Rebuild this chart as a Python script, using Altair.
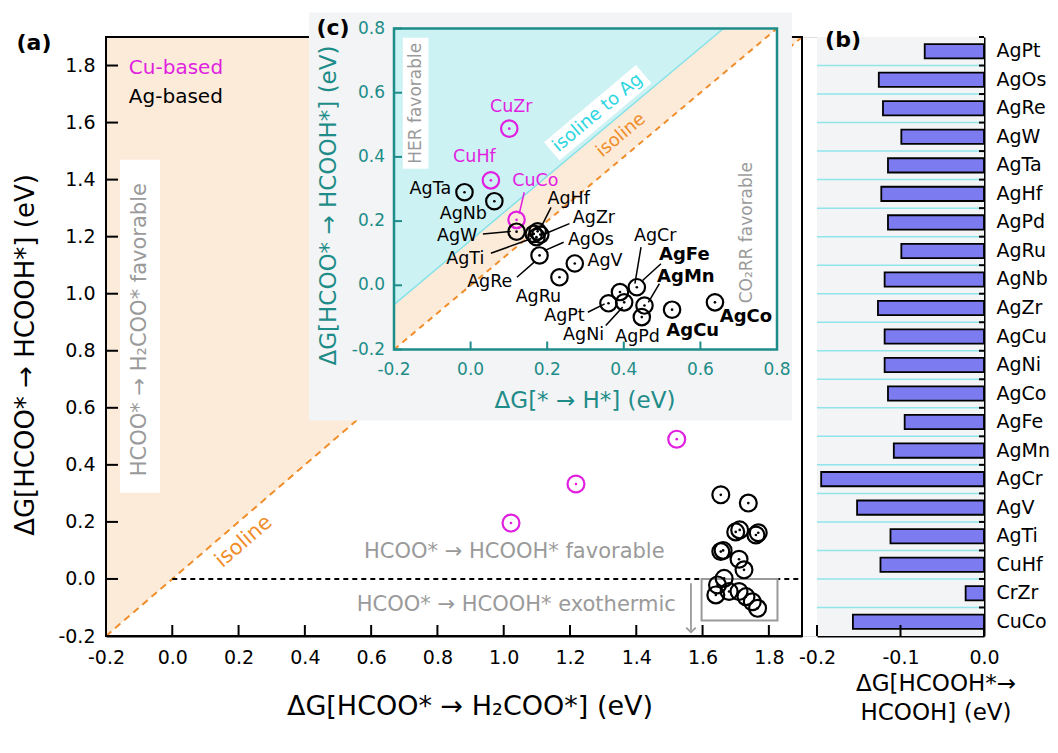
import altair as alt
import pandas as pd

FONT = "DejaVu Sans"

# ---------------- panel (b): ΔG[HCOOH* -> HCOOH] ----------------
b_names = ["AgPt", "AgOs", "AgRe", "AgW", "AgTa", "AgHf", "AgPd", "AgRu", "AgNb", "AgZr",
           "AgCu", "AgNi", "AgCo", "AgFe", "AgMn", "AgCr", "AgV", "AgTi", "CuHf", "CrZr", "CuCo"]
b_vals = [-0.071, -0.126, -0.121, -0.099, -0.115, -0.123, -0.115, -0.099, -0.119, -0.127,
          -0.119, -0.119, -0.115, -0.095, -0.108, -0.195, -0.152, -0.112, -0.124, -0.022, -0.157]
b_ticks = [-0.2, -0.1, 0.0]

# ---------------- panel (a): ΔG[HCOO*->H2COO*] vs ΔG[HCOO*->HCOOH*] ----------------
a_cu_x = [1.022, 1.218, 1.522]
a_cu_y = [0.196, 0.333, 0.490]
a_ag_x = [1.655, 1.738, 1.700, 1.712, 1.761, 1.768, 1.655, 1.662, 1.710, 1.725,
          1.665, 1.645, 1.640, 1.680, 1.710, 1.731, 1.750, 1.766]
a_ag_y = [0.295, 0.266, 0.165, 0.172, 0.154, 0.162, 0.096, 0.100, 0.069, 0.032,
          0.002, -0.021, -0.056, -0.044, -0.044, -0.062, -0.080, -0.103]
a_ticks = [-0.2, 0.0, 0.2, 0.4, 0.6, 0.8, 1.0, 1.2, 1.4, 1.6, 1.8]

# ---------------- inset (c): ΔG[*->H*] vs ΔG[HCOO*->HCOOH*] ----------------
c_cu_names = ["CuZr", "CuHf", "CuCo"]
c_cu_x = [0.101, 0.053, 0.120]
c_cu_y = [0.488, 0.327, 0.204]
c_ag_names = ["AgTa", "AgNb", "AgW", "AgHf", "AgZr", "AgOs", "AgTi", "AgRe", "AgRu", "AgV",
              "AgPt", "AgNi", "AgCr", "AgFe", "AgMn", "AgPd", "AgCu", "AgCo"]
c_ag_x = [-0.016, 0.062, 0.120, 0.175, 0.182, 0.172, 0.165, 0.180, 0.232, 0.272,
          0.360, 0.401, 0.390, 0.434, 0.454, 0.447, 0.526, 0.638]
c_ag_y = [0.290, 0.262, 0.167, 0.168, 0.158, 0.150, 0.160, 0.093, 0.025, 0.068,
          -0.056, -0.053, -0.021, -0.006, -0.063, -0.099, -0.076, -0.053]
c_ticks = [-0.2, 0.0, 0.2, 0.4, 0.6, 0.8]
c_tick_labels = ["-0.2", "0.0", "0.2", "0.4", "0.6", "0.8"]

# labels in the inset (name, x, y) and leader lines
c_lab_norm = ["CuZr", "CuHf", "CuCo", "AgTa", "AgNb", "AgW", "AgTi", "AgRe", "AgRu",
              "AgHf", "AgZr", "AgOs", "AgV", "AgCr", "AgPt", "AgNi", "AgPd"]
c_lab_norm_x = [0.106, 0.010, 0.169, -0.105, -0.019, -0.035, -0.014, 0.050, 0.177,
                0.256, 0.322, 0.314, 0.351, 0.482, 0.245, 0.295, 0.436]
c_lab_norm_y = [0.557, 0.399, 0.326, 0.300, 0.223, 0.153, 0.083, 0.010, -0.037,
                0.269, 0.210, 0.142, 0.075, 0.155, -0.097, -0.156, -0.162]
c_lab_norm_col = ["#E01FE0"] * 3 + ["black"] * 14
c_lab_bold = ["AgFe", "AgMn", "AgCu", "AgCo"]
c_lab_bold_x = [0.558, 0.562, 0.580, 0.719]
c_lab_bold_y = [0.093, 0.027, -0.141, -0.099]
lead_x1 = [0.140, 0.032, 0.053, 0.121, 0.210, 0.258, 0.243, 0.445, 0.497, 0.493, 0.306, 0.353]
lead_y1 = [0.290, 0.160, 0.100, 0.025, 0.243, 0.192, 0.134, 0.119, 0.067, 0.005, -0.084, -0.125]
lead_x2 = [0.127, 0.105, 0.158, 0.166, 0.184, 0.193, 0.193, 0.429, 0.449, 0.464, 0.350, 0.397]
lead_y2 = [0.223, 0.168, 0.145, 0.072, 0.181, 0.160, 0.108, 0.005, 0.015, -0.053, -0.058, -0.068]
lead_col = ["#E01FE0"] + ["black"] * 11

# reference lines
iso_a = [-0.2, 1.9]
iso_c = [-0.2, 0.8]
iso_ag_x = [-0.2, 0.66]
iso_ag_y = [-0.06, 0.80]

# ---------------- styling / layout ----------------
ORANGE_FILL = "#FDEBDA"
ORANGE = "#EF8E2A"
CYAN_FILL = "#CDF2F4"
CYAN_LINE = "#86E2E8"
CYAN_TEXT = "#2ED6DF"
TEAL = "#1E8C88"
MAGENTA = "#E01FE0"
GRAY = "#9A9A9A"
INSET_BG = "#F2F4F5"
B_BG = "#F3F4F5"
BAR = "#7C7CF0"
GRID_B = "#8FE5EB"

W, H = 878, 599
A_XR = [0, 696]
B_XR = [711, 878]
C_XR = [288, 671]
C_YR = [312.5, -8.5]
A_DOM = [-0.2, 1.9]
B_DOM = [-0.2, 0.0]
C_DOM = [-0.2, 0.8]
LABEL_EXPR = "replace(format(datum.value, '.1f'), '\u2212', '-')"


def q(field, dom, rng, ch, axis=None):
    return ch(field, type="quantitative",
              scale=alt.Scale(domain=dom, range=rng, nice=False, zero=False), axis=axis)


def ax(f, axis=None):
    return q(f, A_DOM, A_XR, alt.X, axis)


def ay(f, axis=None):
    return q(f, A_DOM, [H, 0], alt.Y, axis)


def bx(f, axis=None):
    return q(f, B_DOM, B_XR, alt.X, axis)


def cx(f):
    return q(f, C_DOM, C_XR, alt.X)


def cy(f):
    return q(f, C_DOM, C_YR, alt.Y)


def pix_text(texts, xs, ys, size, color="black", weight="normal", angle=0,
             align="center", baseline="middle"):
    df = pd.DataFrame({"t": texts, "px": xs, "py": ys})
    return alt.Chart(df).mark_text(font=FONT, fontSize=size, fontWeight=weight, color=color,
                                   angle=angle, align=align, baseline=baseline).encode(
        x=alt.X("px:Q", scale=None, axis=None), y=alt.Y("py:Q", scale=None, axis=None), text="t:N")


def data_text(texts, xs, ys, xf, yf, size, color="black", weight="normal", angle=0,
              align="center", baseline="middle"):
    df = pd.DataFrame({"t": texts, "x": xs, "y": ys})
    return alt.Chart(df).mark_text(font=FONT, fontSize=size, fontWeight=weight, color=color,
                                   angle=angle, align=align, baseline=baseline).encode(
        x=xf("x"), y=yf("y"), text="t:N")


def rect(x0, x1, y0, y1, xf, yf, **mk):
    df = pd.DataFrame({"x0": [x0], "x1": [x1], "y0": [y0], "y1": [y1]})
    return alt.Chart(df).mark_rect(**mk).encode(x=xf("x0"), x2=alt.X2("x1"), y=yf("y0"), y2=alt.Y2("y1"))


def seg(x1, y1, x2, y2, xf, yf, **mk):
    df = pd.DataFrame({"x": [x1], "y": [y1], "x2": [x2], "y2": [y2]})
    return alt.Chart(df).mark_rule(**mk).encode(x=xf("x"), y=yf("y"), x2=alt.X2("x2"), y2=alt.Y2("y2"))


def circles(xs, ys, xf, yf, color, size=285):
    df = pd.DataFrame({"x": xs, "y": ys})
    ring = alt.Chart(df).mark_point(shape="circle", filled=False, size=size, strokeWidth=2.2,
                                    color=color, opacity=1).encode(x=xf("x"), y=yf("y"))
    dot = alt.Chart(df).mark_point(shape="circle", filled=True, size=7, color=color,
                                   opacity=1).encode(x=xf("x"), y=yf("y"))
    return [ring, dot]


axis_common = dict(ticks=False, tickSize=0, domainColor="black", domainWidth=2,
                   labelColor="black", labelFont=FONT, grid=False, title=None,
                   labelOverlap=False)
AXIS_AX = alt.Axis(orient="bottom", values=a_ticks, labelExpr=LABEL_EXPR, labelFontSize=19,
                   labelPadding=12, labelFlush=False, **axis_common)
AXIS_AY = alt.Axis(orient="left", values=a_ticks, labelExpr=LABEL_EXPR, labelFontSize=19,
                   labelPadding=11, labelFlush=False, **axis_common)
AXIS_BX = alt.Axis(orient="bottom", values=b_ticks, labelExpr=LABEL_EXPR, labelFontSize=19,
                   labelPadding=12, labelFlush=False, **axis_common)
AXIS_BY = alt.Axis(orient="right", labelFontSize=19, labelPadding=12, **axis_common)

layers = []

# ================= panel (a) =================
iso_df = pd.DataFrame({"x": iso_a, "y": iso_a, "top": [iso_a[1], iso_a[1]]})
layers.append(alt.Chart(iso_df).mark_area(orient="vertical", color=ORANGE_FILL).encode(
    x=ax("x", AXIS_AX), y=ay("y", AXIS_AY), y2=alt.Y2("top")))
layers.append(rect(-0.158, -0.037, 0.302, 1.47, ax, ay, color="white"))
layers.append(data_text(["HCOO* \u2192 H\u2082COO* favorable"], [-0.097], [0.874], ax, ay, 21,
                        color=GRAY, angle=270))
layers.append(alt.Chart(iso_df).mark_line(color=ORANGE, strokeWidth=2, strokeDash=[7, 5]).encode(
    x=ax("x"), y=ay("y")))
layers.append(data_text(["isoline"], [0.216], [0.131], ax, ay, 21, color=ORANGE, angle=319.3))
zero_df = pd.DataFrame({"x": [0.0, 1.9], "y": [0.0, 0.0]})
layers.append(alt.Chart(zero_df).mark_line(color="black", strokeWidth=2, strokeDash=[5, 4]).encode(
    x=ax("x"), y=ay("y")))
layers.append(data_text(["HCOO* \u2192 HCOOH* favorable", "HCOO* \u2192 HCOOH* exothermic"],
                        [1.032, 1.038], [0.096, -0.091], ax, ay, 21, color=GRAY))
layers.append(seg(1.565, -0.015, 1.565, -0.182, ax, ay, color=GRAY, strokeWidth=1.8))
layers.append(alt.Chart(pd.DataFrame({"x": [1.565], "y": [-0.187]})).mark_point(
    shape="M -1 -1 L 0 0 L 1 -1", filled=False, size=90, strokeWidth=1.8, color=GRAY, opacity=1
).encode(x=ax("x"), y=ay("y")))
layers.append(rect(1.597, 1.826, -0.146, 0.0, ax, ay, fillOpacity=0, stroke=GRAY, strokeWidth=2))
layers += circles(a_cu_x, a_cu_y, ax, ay, MAGENTA)
layers += circles(a_ag_x, a_ag_y, ax, ay, "black")
tick_df = pd.DataFrame({"v": a_ticks})
layers.append(alt.Chart(tick_df).mark_rule(color="black", strokeWidth=2).encode(
    x=ax("v"), y=alt.value(H - 11), y2=alt.value(H)))
layers.append(alt.Chart(tick_df).mark_rule(color="black", strokeWidth=2).encode(
    y=ay("v"), x=alt.value(0), x2=alt.value(12)))
layers.append(rect(-0.2, 1.9, -0.2, 1.9, ax, ay, fillOpacity=0, stroke="black", strokeWidth=2))
layers.append(data_text(["Cu-based"], [-0.131], [1.793], ax, ay, 20, color=MAGENTA, align="left"))
layers.append(data_text(["Ag-based"], [-0.131], [1.688], ax, ay, 20, color="black", align="left"))
layers.append(pix_text(["(a)"], [-72], [6], 22, weight="bold"))
layers.append(pix_text(["\u0394G[HCOO* \u2192 HCOOH*] (eV)"], [-80], [318], 26, angle=270))
layers.append(pix_text(["\u0394G[HCOO* \u2192 H\u2082COO*] (eV)"], [364], [670], 27))

# ================= panel (b) =================
layers.append(rect(-0.2, 0.0, 0, 0, bx, lambda f: alt.Y(f, type="quantitative", scale=None, axis=None),
                   color=B_BG).encode(y=alt.value(0), y2=alt.value(H)))
band0 = alt.Scale(type="band", domain=b_names, range=[0, H], paddingInner=0, paddingOuter=0)
grid_df = pd.DataFrame({"cat": b_names[1:], "x0": -0.2, "x1": 0.0})
layers.append(alt.Chart(grid_df).mark_rule(color=GRID_B, strokeWidth=1.5).encode(
    y=alt.Y("cat:N", scale=band0, bandPosition=0, axis=None), x=bx("x0"), x2=alt.X2("x1")))
bdf = pd.DataFrame({"cat": b_names, "val": b_vals, "zero": 0.0})
layers.append(alt.Chart(bdf).mark_bar(color=BAR, stroke="black", strokeWidth=1.8).encode(
    x=bx("val", AXIS_BX), x2=alt.X2("zero"),
    y=alt.Y("cat:N", scale=alt.Scale(domain=b_names, range=[0, H], paddingInner=0.5,
                                     paddingOuter=0.25), axis=AXIS_BY)))
layers.append(alt.Chart(pd.DataFrame({"cat": b_names})).mark_rule(color="black", strokeWidth=2).encode(
    y=alt.Y("cat:N", scale=band0, bandPosition=0, axis=None), x=alt.value(W - 5), x2=alt.value(W)))
layers.append(alt.Chart(pd.DataFrame({"v": b_ticks})).mark_rule(color="black", strokeWidth=2).encode(
    x=bx("v"), y=alt.value(H - 11), y2=alt.value(H)))
layers.append(pix_text(["(b)"], [737], [3], 22, weight="bold"))
layers.append(pix_text(["\u0394G[HCOOH*\u2192", "HCOOH] (eV)"], [830, 830], [647, 676], 23))

# ================= inset (c) =================
layers.append(rect(-0.422, 0.839, -0.421, 0.85, cx, cy, color=INSET_BG))
layers.append(rect(-0.2, 0.8, -0.2, 0.8, cx, cy, color="white"))
iso_c_df = pd.DataFrame({"x": iso_c, "y": iso_c, "top": [0.8, 0.8]})
layers.append(alt.Chart(iso_c_df).mark_area(orient="vertical", color=ORANGE_FILL).encode(
    x=cx("x"), y=cy("y"), y2=alt.Y2("top")))
ag_df = pd.DataFrame({"x": iso_ag_x, "y": iso_ag_y, "top": [0.8, 0.8]})
layers.append(alt.Chart(ag_df).mark_area(orient="vertical", color=CYAN_FILL).encode(
    x=cx("x"), y=cy("y"), y2=alt.Y2("top")))
layers.append(alt.Chart(ag_df).mark_line(color=CYAN_LINE, strokeWidth=1.5).encode(x=cx("x"), y=cy("y")))
layers.append(alt.Chart(iso_c_df).mark_line(color=ORANGE, strokeWidth=2, strokeDash=[6, 5]).encode(
    x=cx("x"), y=cy("y")))
layers.append(seg(0.212, 0.417, 0.452, 0.658, cx, cy, color="white", strokeWidth=24, strokeCap="butt"))
layers.append(data_text(["isoline to Ag"], [0.332], [0.537], cx, cy, 18, color=CYAN_TEXT, angle=320))
layers.append(data_text(["isoline"], [0.393], [0.467], cx, cy, 18, color=ORANGE, angle=320))
layers.append(rect(-0.177, -0.110, 0.363, 0.771, cx, cy, color="white"))
layers.append(data_text(["HER favorable"], [-0.1435], [0.567], cx, cy, 17, color=GRAY, angle=270))
layers.append(data_text(["CO\u2082RR favorable"], [0.722], [0.164], cx, cy, 17, color=GRAY, angle=270))
lead_df = pd.DataFrame({"x": lead_x1, "y": lead_y1, "x2": lead_x2, "y2": lead_y2, "c": lead_col})
layers.append(alt.Chart(lead_df).mark_rule(strokeWidth=1.5).encode(
    x=cx("x"), y=cy("y"), x2=alt.X2("x2"), y2=alt.Y2("y2"), color=alt.Color("c:N", scale=None)))
layers += circles(c_cu_x, c_cu_y, cx, cy, MAGENTA, size=270)
layers += circles(c_ag_x, c_ag_y, cx, cy, "black", size=270)
lab_df = pd.DataFrame({"t": c_lab_norm, "x": c_lab_norm_x, "y": c_lab_norm_y, "c": c_lab_norm_col})
layers.append(alt.Chart(lab_df).mark_text(font=FONT, fontSize=17.5, baseline="middle").encode(
    x=cx("x"), y=cy("y"), text="t:N", color=alt.Color("c:N", scale=None)))
layers.append(data_text(c_lab_bold, c_lab_bold_x, c_lab_bold_y, cx, cy, 18, weight="bold"))
# inset frame, ticks, labels, titles
layers.append(rect(-0.2, 0.8, -0.2, 0.8, cx, cy, fillOpacity=0, stroke=TEAL, strokeWidth=2.5))
ct_df = pd.DataFrame({"v": c_ticks, "t": c_tick_labels})
layers.append(alt.Chart(ct_df).mark_rule(color=TEAL, strokeWidth=2).encode(
    x=cx("v"), y=alt.value(C_YR[0] - 8), y2=alt.value(C_YR[0])))
layers.append(alt.Chart(ct_df).mark_rule(color=TEAL, strokeWidth=2).encode(
    y=cy("v"), x=alt.value(C_XR[0]), x2=alt.value(C_XR[0] + 8)))
layers.append(alt.Chart(ct_df).mark_text(font=FONT, fontSize=17, color=TEAL, baseline="middle").encode(
    x=cx("v"), y=alt.value(C_YR[0] + 20), text="t:N"))
layers.append(alt.Chart(ct_df).mark_text(font=FONT, fontSize=17, color=TEAL, baseline="middle",
                                         align="right").encode(
    y=cy("v"), x=alt.value(C_XR[0] - 9), text="t:N"))
layers.append(pix_text(["\u0394G[* \u2192 H*] (eV)"], [479], [363.5], 23, color=TEAL))
layers.append(pix_text(["\u0394G[HCOO* \u2192 HCOOH*] (eV)"], [223], [168.5], 23, color=TEAL, angle=270))
layers.append(pix_text(["(c)"], [227], [-9.5], 22, weight="bold"))

chart = alt.layer(*layers).resolve_scale(x="independent", y="independent").properties(
    width=W, height=H, padding={"left": 5, "top": 4, "right": 0, "bottom": 5}
).configure_view(stroke=None).configure(font=FONT)

chart.save("out.html", embed_options={"renderer": "svg", "actions": False})
